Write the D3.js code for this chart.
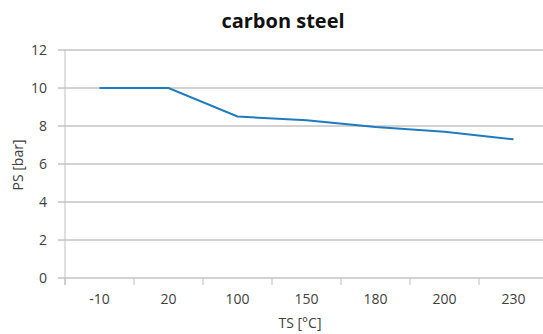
<!DOCTYPE html>
<html>
<head>
<meta charset="utf-8">
<script src="https://cdn.jsdelivr.net/npm/d3@7"></script>
<style>
  body { margin: 0; background: #fff; }
  text { font-family: "Open Sans", sans-serif; fill: #404040; }
</style>
</head>
<body>
<svg width="543" height="334"></svg>
<script>
// chart data
const categories = ["-10", "20", "100", "150", "180", "200", "230"];
const psValues = [10, 10, 8.5, 8.3, 7.95, 7.7, 7.3];
const yTicks = [0, 2, 4, 6, 8, 10, 12];

const svg = d3.select("svg");
const margin = { top: 50, right: -5, bottom: 56, left: 65 },
      width = 543 - margin.left - margin.right,
      height = 334 - margin.top - margin.bottom;

const g = svg.append("g")
  .attr("transform", "translate(" + margin.left + "," + margin.top + ")");

const x = d3.scaleBand().domain(categories).range([0, width]);
const y = d3.scaleLinear().domain([0, 12]).range([height, 0]);

// gridlines
g.append("g").selectAll("line")
  .data(yTicks)
  .enter().append("line")
  .attr("x1", -7).attr("x2", width)
  .attr("y1", d => y(d)).attr("y2", d => y(d))
  .style("stroke", "#a6a6a6")
  .style("stroke-width", 1);

// y tick labels
g.append("g").selectAll("text")
  .data(yTicks)
  .enter().append("text")
  .attr("x", -18)
  .attr("y", d => y(d))
  .attr("dy", "0.35em")
  .attr("text-anchor", "end")
  .style("font-size", "14px")
  .text(d => d);

// y axis line
g.append("line")
  .attr("x1", 0).attr("x2", 0)
  .attr("y1", 0).attr("y2", height + 7)
  .style("stroke", "#bfbfbf");

// x axis
const xAxis = g.append("g")
  .attr("transform", "translate(0," + height + ")")
  .call(d3.axisBottom(x).tickSize(0).tickPadding(16));
xAxis.select(".domain").remove();
xAxis.selectAll("text")
  .style("font-size", "14px")
  .style("font-family", "'Open Sans', sans-serif")
  .attr("fill", "#404040");

// category boundary ticks
g.append("g").selectAll("line")
  .data(categories)
  .enter().append("line")
  .attr("x1", d => x(d)).attr("x2", d => x(d))
  .attr("y1", height).attr("y2", height + 7)
  .style("stroke", "#bfbfbf");

// series line
const line = d3.line()
  .x((d, i) => x(categories[i]) + x.bandwidth() / 2)
  .y(d => y(d));

g.append("path")
  .datum(psValues)
  .attr("d", line)
  .style("fill", "none")
  .style("stroke", "#1f7bc0")
  .style("stroke-width", 2);

// titles
svg.append("text")
  .attr("x", 283).attr("y", 28)
  .attr("text-anchor", "middle")
  .style("font-size", "20px")
  .style("font-weight", "bold")
  .style("fill", "#111")
  .text("carbon steel");

svg.append("text")
  .attr("x", 300).attr("y", 328)
  .attr("text-anchor", "middle")
  .style("font-size", "14px")
  .text("TS [°C]");

svg.append("text")
  .attr("transform", "translate(23,165) rotate(-90)")
  .attr("text-anchor", "middle")
  .style("font-size", "14px")
  .text("PS [bar]");
</script>
</body>
</html>
